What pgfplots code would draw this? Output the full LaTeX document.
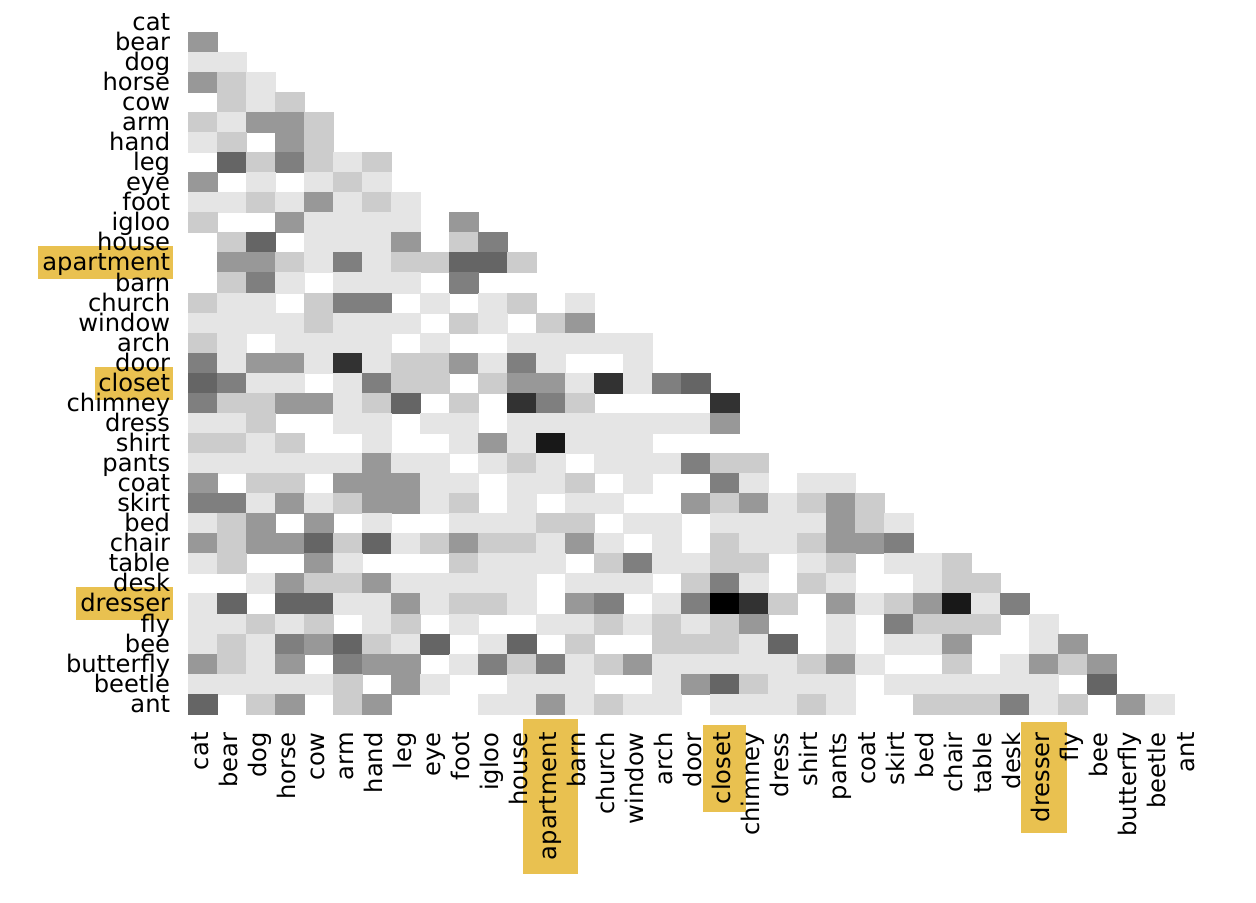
\documentclass[border=0pt]{standalone}
\usepackage{fontspec}
\setmainfont{DejaVu Sans}
\usepackage{pgfplots}
\usepackage{pgfplotstable}
\pgfplotsset{compat=1.18}
\definecolor{hlyellow}{RGB}{233,193,80}

% lower triangle of the similarity matrix: column x, row y, shade c (0 = white, 10 = black)
% zero cells are left out
\pgfplotstableread[row sep=\\]{
x y c\\
0 1 4\\
0 2 1\\ 1 2 1\\
0 3 4\\ 1 3 2\\ 2 3 1\\
1 4 2\\ 2 4 1\\ 3 4 2\\
0 5 2\\ 1 5 1\\ 2 5 4\\ 3 5 4\\ 4 5 2\\
0 6 1\\ 1 6 2\\ 3 6 4\\ 4 6 2\\
1 7 6\\ 2 7 2\\ 3 7 5\\ 4 7 2\\ 5 7 1\\ 6 7 2\\
0 8 4\\ 2 8 1\\ 4 8 1\\ 5 8 2\\ 6 8 1\\
0 9 1\\ 1 9 1\\ 2 9 2\\ 3 9 1\\ 4 9 4\\ 5 9 1\\ 6 9 2\\ 7 9 1\\
0 10 2\\ 3 10 4\\ 4 10 1\\ 5 10 1\\ 6 10 1\\ 7 10 1\\ 9 10 4\\
1 11 2\\ 2 11 6\\ 4 11 1\\ 5 11 1\\ 6 11 1\\ 7 11 4\\ 9 11 2\\ 10 11 5\\
1 12 4\\ 2 12 4\\ 3 12 2\\ 4 12 1\\ 5 12 5\\ 6 12 1\\ 7 12 2\\ 8 12 2\\ 9 12 6\\ 10 12 6\\ 11 12 2\\
1 13 2\\ 2 13 5\\ 3 13 1\\ 5 13 1\\ 6 13 1\\ 7 13 1\\ 9 13 5\\
0 14 2\\ 1 14 1\\ 2 14 1\\ 4 14 2\\ 5 14 5\\ 6 14 5\\ 8 14 1\\ 10 14 1\\ 11 14 2\\ 13 14 1\\
0 15 1\\ 1 15 1\\ 2 15 1\\ 3 15 1\\ 4 15 2\\ 5 15 1\\ 6 15 1\\ 7 15 1\\ 9 15 2\\ 10 15 1\\ 12 15 2\\ 13 15 4\\
0 16 2\\ 1 16 1\\ 3 16 1\\ 4 16 1\\ 5 16 1\\ 6 16 1\\ 8 16 1\\ 11 16 1\\ 12 16 1\\ 13 16 1\\ 14 16 1\\ 15 16 1\\
0 17 5\\ 1 17 1\\ 2 17 4\\ 3 17 4\\ 4 17 1\\ 5 17 8\\ 6 17 1\\ 7 17 2\\ 8 17 2\\ 9 17 4\\ 10 17 1\\ 11 17 5\\ 12 17 1\\ 15 17 1\\
0 18 6\\ 1 18 5\\ 2 18 1\\ 3 18 1\\ 5 18 1\\ 6 18 5\\ 7 18 2\\ 8 18 2\\ 10 18 2\\ 11 18 4\\ 12 18 4\\ 13 18 1\\ 14 18 8\\ 15 18 1\\ 16 18 5\\ 17 18 6\\
0 19 5\\ 1 19 2\\ 2 19 2\\ 3 19 4\\ 4 19 4\\ 5 19 1\\ 6 19 2\\ 7 19 6\\ 9 19 2\\ 11 19 8\\ 12 19 5\\ 13 19 2\\ 18 19 8\\
0 20 1\\ 1 20 1\\ 2 20 2\\ 5 20 1\\ 6 20 1\\ 8 20 1\\ 9 20 1\\ 11 20 1\\ 12 20 1\\ 13 20 1\\ 14 20 1\\ 15 20 1\\ 16 20 1\\ 17 20 1\\ 18 20 4\\
0 21 2\\ 1 21 2\\ 2 21 1\\ 3 21 2\\ 6 21 1\\ 9 21 1\\ 10 21 4\\ 11 21 1\\ 12 21 9\\ 13 21 1\\ 14 21 1\\ 15 21 1\\
0 22 1\\ 1 22 1\\ 2 22 1\\ 3 22 1\\ 4 22 1\\ 5 22 1\\ 6 22 4\\ 7 22 1\\ 8 22 1\\ 10 22 1\\ 11 22 2\\ 12 22 1\\ 14 22 1\\ 15 22 1\\ 16 22 1\\ 17 22 5\\ 18 22 2\\ 19 22 2\\
0 23 4\\ 2 23 2\\ 3 23 2\\ 5 23 4\\ 6 23 4\\ 7 23 4\\ 8 23 1\\ 9 23 1\\ 11 23 1\\ 12 23 1\\ 13 23 2\\ 15 23 1\\ 18 23 5\\ 19 23 1\\ 21 23 1\\ 22 23 1\\
0 24 5\\ 1 24 5\\ 2 24 1\\ 3 24 4\\ 4 24 1\\ 5 24 2\\ 6 24 4\\ 7 24 4\\ 8 24 1\\ 9 24 2\\ 11 24 1\\ 13 24 1\\ 14 24 1\\ 17 24 4\\ 18 24 2\\ 19 24 4\\ 20 24 1\\ 21 24 2\\ 22 24 4\\ 23 24 2\\
0 25 1\\ 1 25 2\\ 2 25 4\\ 4 25 4\\ 6 25 1\\ 9 25 1\\ 10 25 1\\ 11 25 1\\ 12 25 2\\ 13 25 2\\ 15 25 1\\ 16 25 1\\ 18 25 1\\ 19 25 1\\ 20 25 1\\ 21 25 1\\ 22 25 4\\ 23 25 2\\ 24 25 1\\
0 26 4\\ 1 26 2\\ 2 26 4\\ 3 26 4\\ 4 26 6\\ 5 26 2\\ 6 26 6\\ 7 26 1\\ 8 26 2\\ 9 26 4\\ 10 26 2\\ 11 26 2\\ 12 26 1\\ 13 26 4\\ 14 26 1\\ 16 26 1\\ 18 26 2\\ 19 26 1\\ 20 26 1\\ 21 26 2\\ 22 26 4\\ 23 26 4\\ 24 26 5\\
0 27 1\\ 1 27 2\\ 4 27 4\\ 5 27 1\\ 9 27 2\\ 10 27 1\\ 11 27 1\\ 12 27 1\\ 14 27 2\\ 15 27 5\\ 16 27 1\\ 17 27 1\\ 18 27 2\\ 19 27 2\\ 21 27 1\\ 22 27 2\\ 24 27 1\\ 25 27 1\\ 26 27 2\\
2 28 1\\ 3 28 4\\ 4 28 2\\ 5 28 2\\ 6 28 4\\ 7 28 1\\ 8 28 1\\ 9 28 1\\ 10 28 1\\ 11 28 1\\ 13 28 1\\ 14 28 1\\ 15 28 1\\ 17 28 2\\ 18 28 5\\ 19 28 1\\ 21 28 2\\ 22 28 1\\ 25 28 1\\ 26 28 2\\ 27 28 2\\
0 29 1\\ 1 29 6\\ 3 29 6\\ 4 29 6\\ 5 29 1\\ 6 29 1\\ 7 29 4\\ 8 29 1\\ 9 29 2\\ 10 29 2\\ 11 29 1\\ 13 29 4\\ 14 29 5\\ 16 29 1\\ 17 29 5\\ 18 29 10\\ 19 29 8\\ 20 29 2\\ 22 29 4\\ 23 29 1\\ 24 29 2\\ 25 29 4\\ 26 29 9\\ 27 29 1\\ 28 29 5\\
0 30 1\\ 1 30 1\\ 2 30 2\\ 3 30 1\\ 4 30 2\\ 6 30 1\\ 7 30 2\\ 9 30 1\\ 12 30 1\\ 13 30 1\\ 14 30 2\\ 15 30 1\\ 16 30 2\\ 17 30 1\\ 18 30 2\\ 19 30 4\\ 22 30 1\\ 24 30 5\\ 25 30 2\\ 26 30 2\\ 27 30 2\\ 29 30 1\\
0 31 1\\ 1 31 2\\ 2 31 1\\ 3 31 5\\ 4 31 4\\ 5 31 6\\ 6 31 2\\ 7 31 1\\ 8 31 6\\ 10 31 1\\ 11 31 6\\ 13 31 2\\ 16 31 2\\ 17 31 2\\ 18 31 2\\ 19 31 1\\ 20 31 6\\ 22 31 1\\ 24 31 1\\ 25 31 1\\ 26 31 4\\ 29 31 1\\ 30 31 4\\
0 32 4\\ 1 32 2\\ 2 32 1\\ 3 32 4\\ 5 32 5\\ 6 32 4\\ 7 32 4\\ 9 32 1\\ 10 32 5\\ 11 32 2\\ 12 32 5\\ 13 32 1\\ 14 32 2\\ 15 32 4\\ 16 32 1\\ 17 32 1\\ 18 32 1\\ 19 32 1\\ 20 32 1\\ 21 32 2\\ 22 32 4\\ 23 32 1\\ 26 32 2\\ 28 32 1\\ 29 32 4\\ 30 32 2\\ 31 32 4\\
0 33 1\\ 1 33 1\\ 2 33 1\\ 3 33 1\\ 4 33 1\\ 5 33 2\\ 7 33 4\\ 8 33 1\\ 11 33 1\\ 12 33 1\\ 13 33 1\\ 16 33 1\\ 17 33 4\\ 18 33 6\\ 19 33 2\\ 20 33 1\\ 21 33 1\\ 22 33 1\\ 24 33 1\\ 25 33 1\\ 26 33 1\\ 27 33 1\\ 28 33 1\\ 29 33 1\\ 31 33 6\\
0 34 6\\ 2 34 2\\ 3 34 4\\ 5 34 2\\ 6 34 4\\ 10 34 1\\ 11 34 1\\ 12 34 4\\ 13 34 1\\ 14 34 2\\ 15 34 1\\ 16 34 1\\ 18 34 1\\ 19 34 1\\ 20 34 1\\ 21 34 2\\ 22 34 1\\ 25 34 2\\ 26 34 2\\ 27 34 2\\ 28 34 5\\ 29 34 1\\ 30 34 2\\ 32 34 4\\ 33 34 1\\
}\cells

\begin{document}
\begin{tikzpicture}
\useasboundingbox (0,0) rectangle (628pt,451.5pt);
% highlighted labels
\fill[hlyellow] (19pt,312pt) rectangle (86.5pt,328.5pt);
\fill[hlyellow] (47.5pt,251.7pt) rectangle (86.5pt,268.2pt);
\fill[hlyellow] (38pt,141.35pt) rectangle (86.5pt,157.85pt);
\fill[hlyellow] (261.5pt,14.5pt) rectangle (289pt,92pt);
\fill[hlyellow] (351.5pt,45.5pt) rectangle (373pt,89pt);
\fill[hlyellow] (510.5pt,35pt) rectangle (533.5pt,90.5pt);
\begin{axis}[
  at={(94.25pt,94.5pt)}, anchor=south west,
  x=14.5pt, y=10.03pt,
  xmin=-0.5, xmax=34.5, ymin=-0.5, ymax=34.5,
  y dir=reverse,
  clip=false,
  axis line style={draw=none},
  tick style={draw=none},
  xtick={0,...,34}, ytick={0,...,34},
  xticklabels={cat,bear,dog,horse,cow,arm,hand,leg,eye,foot,igloo,house,apartment,barn,church,window,arch,door,closet,chimney,dress,shirt,pants,coat,skirt,bed,chair,table,desk,dresser,fly,bee,butterfly,beetle,ant},
  yticklabels={cat,bear,dog,horse,cow,arm,hand,leg,eye,foot,igloo,house,apartment,barn,church,window,arch,door,closet,chimney,dress,shirt,pants,coat,skirt,bed,chair,table,desk,dresser,fly,bee,butterfly,beetle,ant},
  ticklabel style={font=\fontsize{12.1}{14}\selectfont, inner sep=0pt},
  xticklabel style={rotate=90, anchor=east, text height=7pt, text depth=2pt},
  yticklabel style={anchor=east, text height=8.3pt, text depth=0pt},
  xticklabel shift=9pt, yticklabel shift=9pt,
  colormap={greys}{gray(0cm)=(1); gray(1cm)=(0)},
  point meta min=0, point meta max=10,
]
\addplot[scatter, only marks, scatter src=explicit, mark=square*, mark size=5.015pt,
  mark options={xscale=1.4457, line width=0.2pt},
  scatter/use mapped color={draw=mapped color, fill=mapped color}]
  table[x=x, y=y, meta=c] {\cells};
\end{axis}
\end{tikzpicture}
\end{document}
